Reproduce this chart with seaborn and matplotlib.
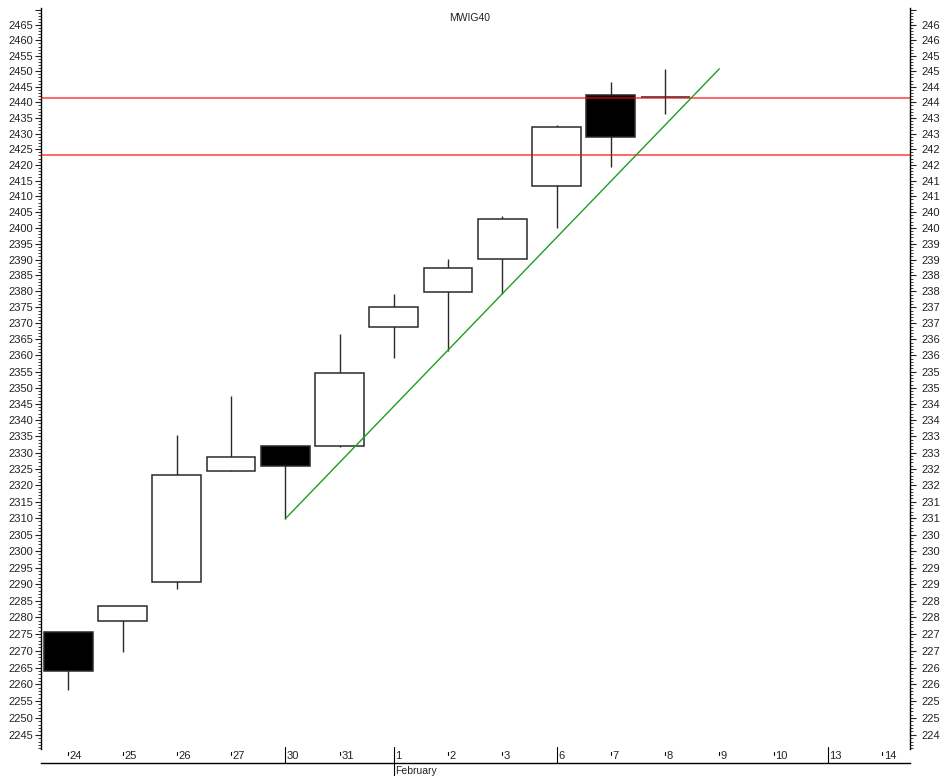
"""
MWIG40 daily candles with trend line and two horizontal levels.
"""
import numpy as np
import pandas as pd
import matplotlib
matplotlib.use('Agg')
import matplotlib.pyplot as plt
import matplotlib.transforms as mtransforms
from matplotlib.ticker import FixedLocator, NullFormatter, FuncFormatter
import seaborn as sns

# data
days = ['24', '25', '26', '27', '30', '31', '1', '2', '3', '6', '7', '8', '9', '10', '13', '14']
week_starts = ['30', '1', '6', '13']
month_starts = {'1': 'February'}

opens = [2275.6, 2278.8, 2290.7, 2324.4, 2332.0, 2332.1, 2368.9, 2379.9, 2390.1, 2413.3, 2442.3, 2441.6]
highs = [2275.6, 2283.5, 2335.5, 2347.5, 2332.0, 2366.6, 2379.1, 2390.2, 2403.7, 2432.6, 2446.5, 2450.8]
lows = [2258.4, 2269.6, 2288.6, 2324.4, 2309.8, 2331.6, 2359.2, 2361.4, 2379.1, 2400.0, 2419.3, 2436.2]
closes = [2264.0, 2283.3, 2323.2, 2328.6, 2325.8, 2354.5, 2375.2, 2387.4, 2402.8, 2432.1, 2429.0, 2441.6]

trend_days = ['30', '9']
trend_values = [2309.8, 2450.8]
levels = [2441.4, 2423.2]

y_major = np.arange(2245, 2475, 5)
y_minor = np.arange(2241, 2471, 1)

sns.set_style('white')
plt.rcParams['font.family'] = ['Liberation Sans', 'DejaVu Sans']

df = pd.DataFrame({'day': days[:len(opens)], 'open': opens, 'high': highs,
                   'low': lows, 'close': closes})
df['x'] = [days.index(d) for d in df['day']]
df['up'] = df['close'] >= df['open']

fig = plt.figure(figsize=(9.4, 7.76), dpi=100)
ax = fig.add_axes([41 / 940, 13 / 776, 869 / 940, 755 / 776])
ax.set_yscale('log')
ax.set_xlim(-0.503, 15.514)
ax.set_ylim(2236.7, 2470.5)

edge = '#2a2a2a'
# wicks and bodies
ax.vlines(df['x'], df['low'], df['high'], color=edge, lw=1.0, zorder=2)
bottoms = np.minimum(df['open'], df['close'])
heights = np.abs(df['close'] - df['open'])
ax.bar(df['x'], heights, bottom=bottoms, width=0.9,
       color=np.where(df['up'], 'white', 'black'), edgecolor=edge, lw=1.1, zorder=3)

# horizontal levels
for lvl in levels:
    ax.axhline(lvl, color='red', alpha=0.6, lw=1.4, zorder=4)

# trend line
sns.lineplot(x=[days.index(d) for d in trend_days], y=trend_values, ax=ax,
             color='#1f9e1f', lw=1.0, zorder=5)

# y axis, both sides
def fmt(v, p):
    return '' if v > 2466 else f'{v:.0f}'

ax2 = ax.twinx()
ax2.set_yscale('log')
ax2.set_ylim(ax.get_ylim())
for a in (ax, ax2):
    a.yaxis.set_major_locator(FixedLocator(y_major))
    a.yaxis.set_major_formatter(FuncFormatter(fmt))
    a.yaxis.set_minor_locator(FixedLocator([v for v in y_minor if v % 5]))
    a.yaxis.set_minor_formatter(NullFormatter())
    a.set_xticks([])
    a.spines['top'].set_visible(False)
    a.set_ylabel('')
ax.spines['right'].set_visible(False)
for s in ('left', 'bottom'):
    ax2.spines[s].set_visible(False)
ax.spines['left'].set_bounds(2240.9, 2470.5)
ax2.spines['right'].set_bounds(2240.9, 2470.5)
for a in (ax.spines['left'], ax2.spines['right'], ax.spines['bottom']):
    a.set_color('black')
    a.set_linewidth(1.0)

ax.tick_params(axis='y', which='major', left=True, right=False, length=4, width=0.8,
               direction='out', labelsize=8, pad=1.5, colors='#222222')
ax.tick_params(axis='y', which='minor', left=True, right=False, length=2, width=0.6,
               direction='out', colors='#222222')
ax2.tick_params(axis='y', which='major', right=True, left=False, length=4, width=0.8,
                direction='out', labelsize=8, pad=4, colors='#222222')
ax2.tick_params(axis='y', which='minor', right=True, left=False, length=2, width=0.6,
                direction='out', colors='#222222')

# date axis drawn inside the bottom strip
trans = mtransforms.blended_transform_factory(ax.transData, ax.transAxes)
for i, d in enumerate(days):
    if d in month_starts:
        ax.plot([i, i], [-0.018, 0.0212], color='black', lw=0.8, transform=trans, clip_on=False)
        ax.text(i + 0.03, -0.0106, month_starts[d], transform=trans, fontsize=7.5,
                ha='left', va='center', color='#222222', clip_on=False)
    elif d in week_starts:
        ax.plot([i, i], [0, 0.0212], color='black', lw=0.8, transform=trans, clip_on=False)
    else:
        ax.plot([i, i], [0.0102, 0.015], color='black', lw=0.8, transform=trans, clip_on=False)
    ax.text(i + 0.03, 0.0053, d, transform=trans, fontsize=8, ha='left',
            va='baseline', color='#222222')

fig.text(0.5, 1 - 18 / 776, 'MWIG40', ha='center', va='center', fontsize=7.5, color='#222222')

fig.savefig('out.png', dpi=100)
